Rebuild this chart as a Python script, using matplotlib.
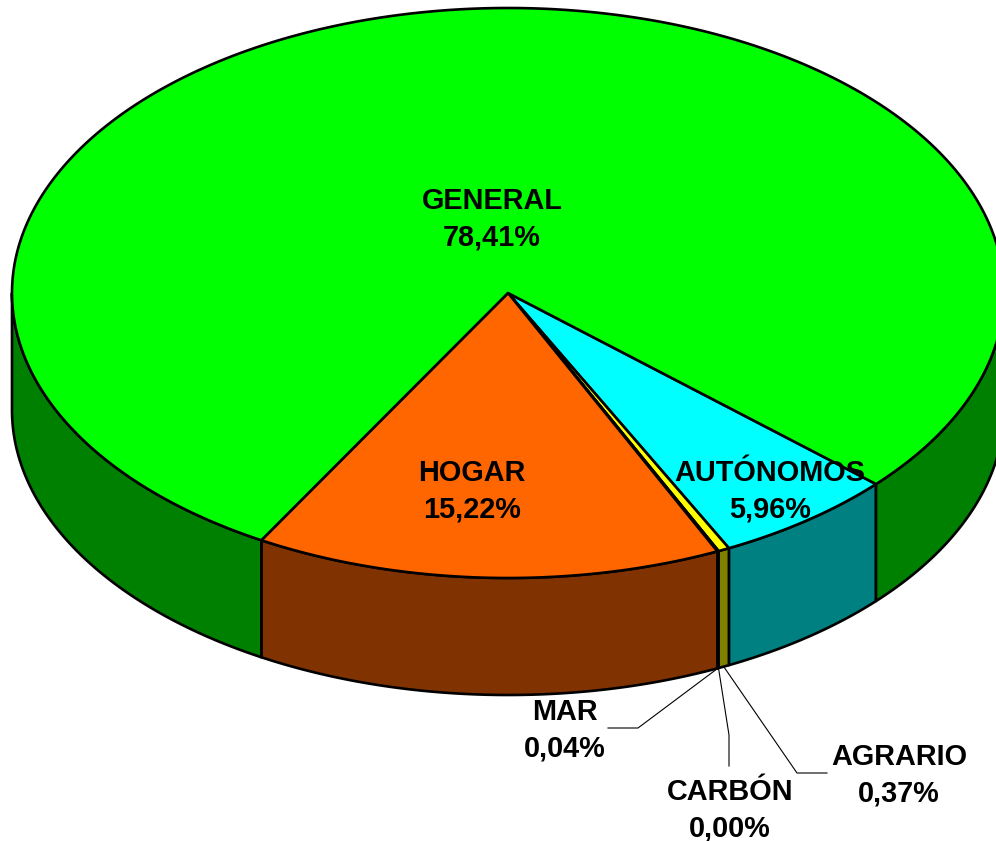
import numpy as np
import matplotlib
matplotlib.use("Agg")
import matplotlib.pyplot as plt
from matplotlib.patches import Polygon

categories = ["AUTÓNOMOS", "AGRARIO", "CARBÓN", "MAR", "HOGAR", "GENERAL"]
values = [5.96, 0.37, 0.00, 0.04, 15.22, 78.41]
value_labels = ["5,96%", "0,37%", "0,00%", "0,04%", "15,22%", "78,41%"]
top_colors = ["#00FFFF", "#FFFF00", "#000080", "#FF00FF", "#FF6600", "#00FF00"]
side_colors = ["#008080", "#808000", "#000040", "#800080", "#803300", "#008000"]
label_xy = [(770, 491), (899, 775), (730, 810), (565, 730), (472, 491), (492, 219.5)]
leaders = {1: [(797, 773), (827, 773)],
           2: [(729, 735), (729, 766)],
           3: [(638, 728), (608, 728)]}

cx, cy, rx, ry, depth = 508.0, 293.0, 496.0, 285.0, 117.0
start_deg = -42.1
lw = 1.9

fig = plt.figure(figsize=(9.96, 8.41), dpi=100)
ax = fig.add_axes([0, 0, 1, 1])
ax.set_xlim(0, 996)
ax.set_ylim(841, 0)
ax.axis("off")


def edge(deg, dz=0.0):
    t = np.radians(deg)
    return cx + rx * np.cos(t), cy - ry * np.sin(t) + dz


def arc(a, b, dz=0.0):
    n = max(2, int(abs(b - a) * 3) + 2)
    t = np.linspace(a, b, n)
    return np.column_stack(edge(t, dz))


# clockwise from start_deg
angles = start_deg - np.cumsum([0.0] + values) * 3.6
spans = list(zip(angles[:-1], angles[1:]))

# side walls, only where the rim faces the viewer (180..360 deg)
for (a, b), col in zip(spans, side_colors):
    pieces = []
    if b >= -180:
        pieces.append((a, b))
    else:
        if a > -180:
            pieces.append((a, -180.0))
        pieces.append((0.0, start_deg))  # wrapped part on the right
    for p, q in pieces:
        if abs(p - q) < 1e-9:
            continue
        poly = np.vstack([arc(p, q), arc(q, p, depth)])
        ax.add_patch(Polygon(poly, closed=True, fc=col, ec="black", lw=lw,
                             joinstyle="round", zorder=2))

# top faces
for (a, b), col in zip(spans, top_colors):
    poly = np.vstack([[(cx, cy)], arc(a, b)])
    ax.add_patch(Polygon(poly, closed=True, fc=col, ec="black", lw=lw,
                         joinstyle="round", zorder=3))

# leader lines
for i, pts in leaders.items():
    a, b = spans[i]
    x0, y0 = edge((a + b) / 2, depth)
    xs = [x0] + [p[0] for p in pts]
    ys = [y0] + [p[1] for p in pts]
    ax.plot(xs, ys, color="black", lw=0.8, zorder=4, solid_joinstyle="miter")

# labels
for name, val, (x, y) in zip(categories, value_labels, label_xy):
    ax.text(x, y, f"{name}\n{val}", ha="center", va="center", fontsize=20.8,
            fontweight="bold", family="Liberation Sans", color="black",
            linespacing=1.37, zorder=5, clip_on=False)

fig.savefig("out.png", dpi=100)
